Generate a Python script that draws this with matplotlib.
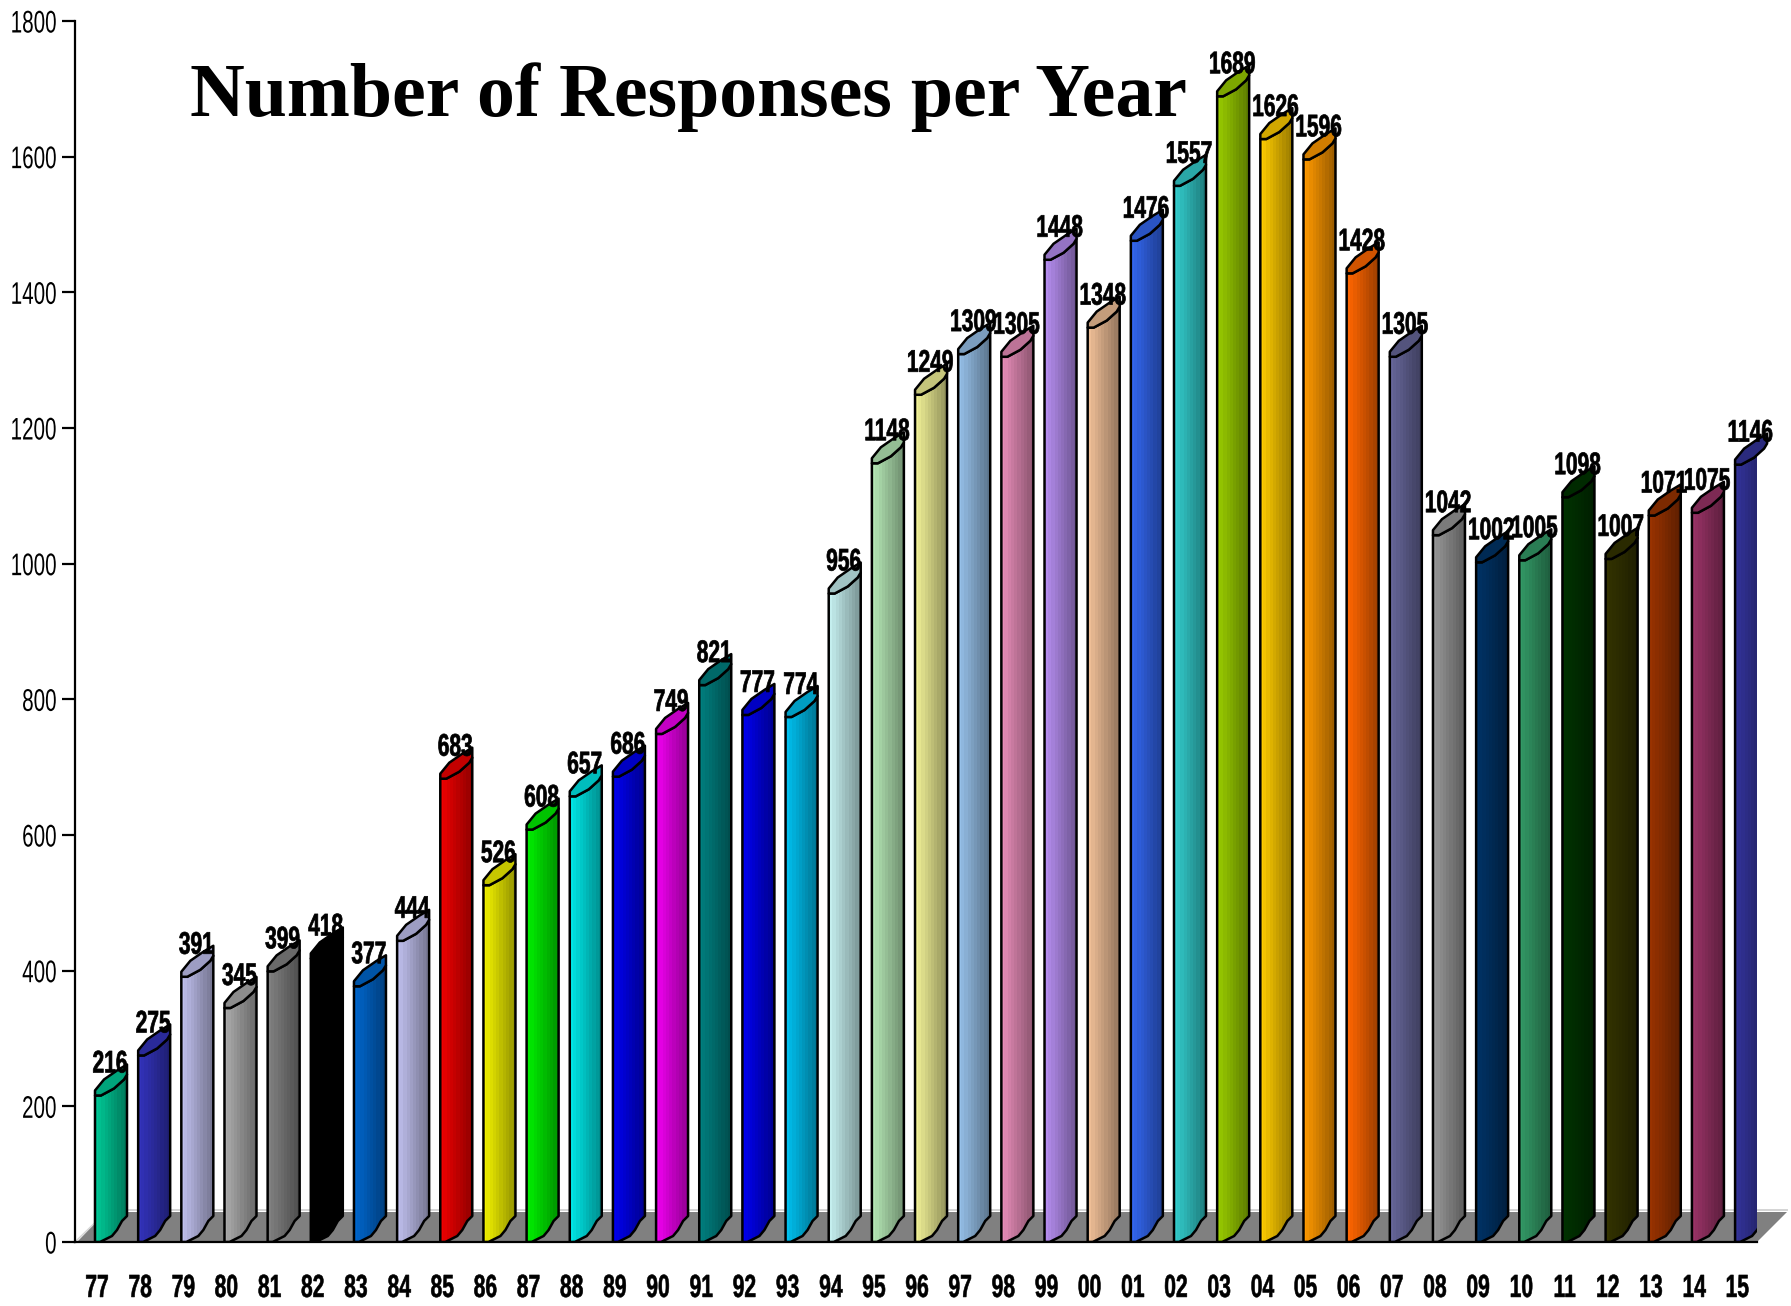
# plot.py - Number of Responses per Year, pseudo-3D bars
import numpy as np
import matplotlib
matplotlib.use('Agg')
import matplotlib.pyplot as plt
from matplotlib.colors import to_rgb
from matplotlib.patches import Polygon
from matplotlib.patheffects import AbstractPathEffect
from matplotlib.transforms import Affine2D

years = ['77', '78', '79', '80', '81', '82', '83', '84', '85', '86', '87', '88', '89',
         '90', '91', '92', '93', '94', '95', '96', '97', '98', '99', '00', '01', '02',
         '03', '04', '05', '06', '07', '08', '09', '10', '11', '12', '13', '14', '15']
responses = [216, 275, 391, 345, 399, 418, 377, 444, 683, 526, 608, 657, 686,
             749, 821, 777, 774, 956, 1148, 1249, 1309, 1305, 1448, 1348, 1476, 1557,
             1689, 1626, 1596, 1428, 1305, 1042, 1002, 1005, 1098, 1007, 1071, 1075, 1146]
bar_colors = ['#00C896', '#3333BB', '#C0C0EE', '#ABABAB', '#808080', '#000000', '#0066CC',
              '#C0C0EE', '#EE0000', '#F2F200', '#00EE00', '#00E6E6', '#0000EE', '#EE00EE',
              '#007F7F', '#0000EE', '#00BFEE', '#C4EEEE', '#B4E6B4', '#F0F096', '#96C0E8',
              '#E68CB8', '#B48CEE', '#EEBE96', '#3366EE', '#33CCCC', '#99CC00', '#FFCC00',
              '#FF9900', '#FF6600', '#666699', '#969696', '#003366', '#339966', '#003300',
              '#333300', '#993300', '#993366', '#333399']
y_ticks = [0, 200, 400, 600, 800, 1000, 1200, 1400, 1600, 1800]

W, H = 1791, 1306
X0, X1, Y0, Y1 = 75, 1757, 1242, 21   # axes box in pixels
BAR0, STEP = 95, 43.16                # first bar left edge, bar spacing in pixels
PX_Y = (Y0 - Y1) / 1800
LW = 1.8


class Squeeze(AbstractPathEffect):
    """draws text narrower in x, no narrow font is installed"""

    def __init__(self, sx, anchor='center', shift=0, stroke=0):
        super().__init__()
        self.sx = sx
        self.anchor = anchor
        self.shift = shift
        self.stroke = stroke

    def draw_path(self, renderer, gc, tpath, affine, rgbFace=None):
        ext = tpath.get_extents()
        ax_ = ext.x1 if self.anchor == 'right' else (ext.x0 + ext.x1) / 2
        squeeze = Affine2D().translate(-ax_, 0).scale(self.sx, 1).translate(ax_, 0)
        gc0 = renderer.new_gc()
        gc0.copy_properties(gc)
        if self.stroke:
            gc0.set_linewidth(self.stroke)
            gc0.set_foreground(rgbFace)
        renderer.draw_path(gc0, tpath, squeeze + affine + Affine2D().translate(self.shift, 0), rgbFace)
        gc0.restore()


fig = plt.figure(figsize=(W / 100, H / 100), dpi=100, facecolor='white')
ax = fig.add_axes([X0 / W, 1 - Y0 / H, (X1 - X0) / W, (Y0 - Y1) / H])
ax.patch.set_visible(False)


def px(dx, dy):
    """pixel offsets (x right, y up) to data units"""
    return dx / STEP, dy / PX_Y


# floor
floor = [px(-18, 0), px(11, 30), px(1692, 30), px(1662, 0)]
ax.add_patch(Polygon(floor, closed=True, fc='#808080', ec='none', clip_on=False, zorder=1))
ax.plot([floor[1][0], floor[2][0]], [32 / PX_Y] * 2, color='#d4d4d4', lw=1.4,
        clip_on=False, zorder=1)
ax.plot([px(-20, 0)[0], px(11, 30)[0]], [0, 30 / PX_Y], color='#d4d4d4', lw=1,
        clip_on=False, zorder=1)

base_profile = [(0, 0), (5, 0), (17, 6), (22, 12), (27, 21), (32, 26)]
front_cap = [(32, 21), (29, 16), (19, 7), (6, 0), (0, 0)]
back_cap = [(0, 5), (9, 16), (22, 25), (32, 31)]
shades = np.linspace(1.0, 0.62, 10)

for i, (v, c) in enumerate(zip(responses, bar_colors)):
    rgb = np.array(to_rgb(c))
    # body with stripes getting darker to the right
    pts = [(i + px(a, b)[0], px(a, b)[1]) for a, b in base_profile]
    pts += [(i + px(a, b)[0], v + px(a, b)[1]) for a, b in front_cap]
    body = Polygon(pts, closed=True, fc='none', ec='black', lw=LW, zorder=3 + i * 0.01,
                   joinstyle='round')
    ax.add_patch(body)
    img = ax.imshow(np.outer(shades, rgb).reshape(1, -1, 3), extent=[i, i + 32 / STEP, 0, v + 40 / PX_Y],
                    aspect='auto', interpolation='nearest', zorder=2.9 + i * 0.01)
    img.set_clip_path(body)

    # slanted cap
    cap = [(i + px(a, b)[0], v + px(a, b)[1]) for a, b in front_cap + back_cap]
    ax.add_patch(Polygon(cap, closed=True, fc=rgb * 0.82, ec='black', lw=LW, zorder=3.5 + i * 0.01,
                         joinstyle='round', clip_on=False))

    ax.text(i + 15 / STEP, v + 23 / PX_Y, str(v), ha='center', va='baseline', fontsize=22.5,
            fontweight='bold', family='Liberation Sans', color='black', zorder=6, clip_on=False,
            path_effects=[Squeeze(0.67, stroke=0.5)])

ax.set_xlim((X0 - BAR0) / STEP, (X1 - BAR0) / STEP)
ax.set_ylim(0, 1800)

for s in ['top', 'right']:
    ax.spines[s].set_visible(False)
for s in ['left', 'bottom']:
    ax.spines[s].set_linewidth(1.6)
    ax.spines[s].set_zorder(5)

# labels keep their full width inside the figure, the effect moves the ink back left of the ticks
ax.set_yticks(y_ticks)
ax.tick_params(axis='y', length=9.4, width=1.6, pad=-6.5)
for t in ax.get_yticklabels():
    t.set_fontsize(22.5)
    t.set_family('Liberation Sans')
    t.set_path_effects([Squeeze(0.66, 'right', shift=-14)])

ax.set_xticks(np.arange(len(years)) + 2 / STEP)
ax.set_xticklabels(years, fontsize=23, fontweight='bold', family='Liberation Sans')
ax.tick_params(axis='x', length=0, pad=23)
for t in ax.get_xticklabels():
    t.set_path_effects([Squeeze(0.66, stroke=0.4)])

fig.text(190 / W, 1 - 116 / H, 'Number of Responses per Year', fontsize=54.5, fontweight='bold',
         family='Liberation Serif', ha='left', va='baseline', color='black')

fig.savefig('out.png', dpi=100, facecolor='white')
